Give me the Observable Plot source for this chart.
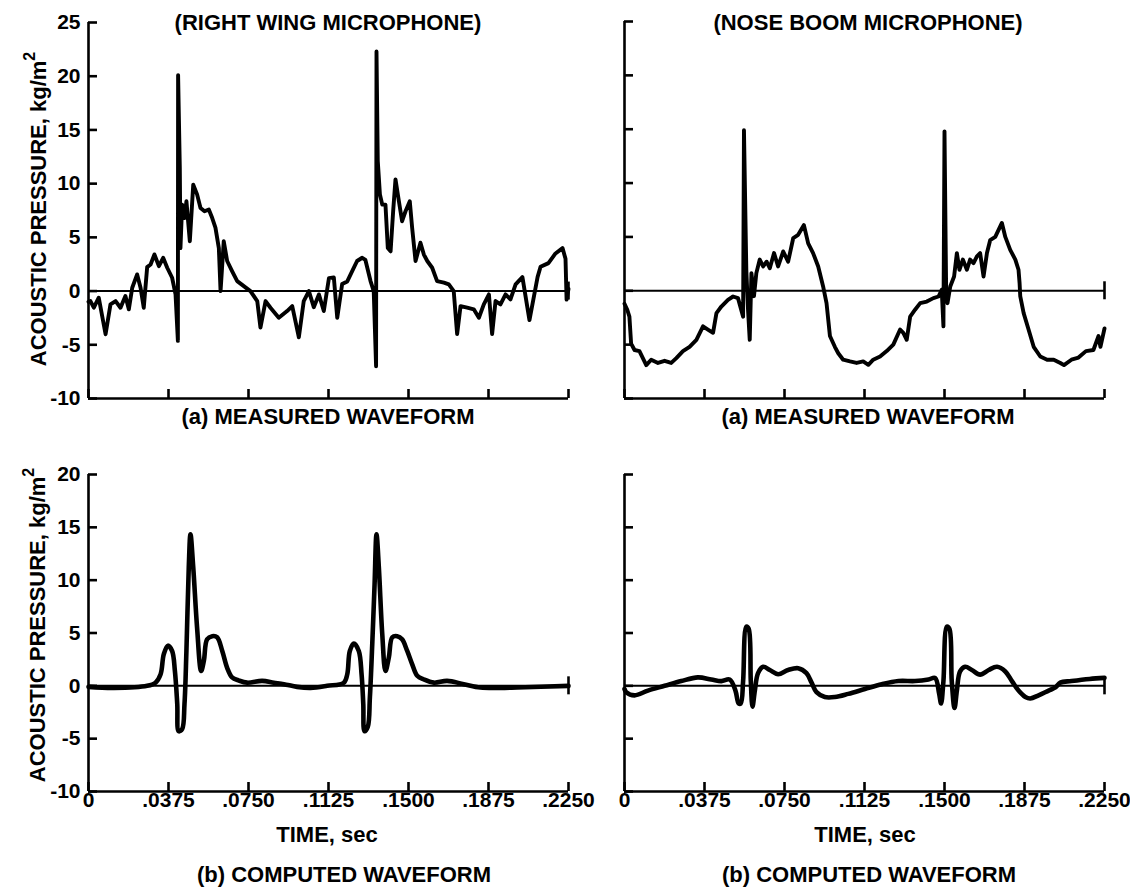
<!DOCTYPE html>
<html><head><meta charset="utf-8">
<script src="https://cdn.jsdelivr.net/npm/d3@7"></script>
<script src="https://cdn.jsdelivr.net/npm/@observablehq/plot@0.6"></script>
<style>
body{margin:0;background:#fff;}
#fig{position:relative;width:1130px;height:889px;overflow:hidden;background:#fff;font-family:"Liberation Sans",Arial,sans-serif;font-weight:bold;color:#000;}
.lbl{position:absolute;white-space:nowrap;font-size:22px;line-height:1;transform:translate(-50%,-50%);}
.ylab{position:absolute;white-space:nowrap;font-size:22px;line-height:1;transform:translate(-50%,-50%) rotate(-90deg);}
.ylab sup{font-size:16px;position:relative;top:-2px;}
</style></head><body><div id="fig"></div>
<script>
// ---- axis ticks ----
const xTicks = [0, 0.0375, 0.075, 0.1125, 0.15, 0.1875, 0.225];
const xTickLabels = ["0", ".0375", ".0750", ".1125", ".1500", ".1875", ".2250"];
const yTicksTop = [-10, -5, 0, 5, 10, 15, 20, 25];
const yTickLabelsTop = ["-10", "-5", "0", "5", "10", "15", "20", "25"];
const yTicksBottom = [-10, -5, 0, 5, 10, 15, 20];
const yTickLabelsBottom = ["-10", "-5", "0", "5", "10", "15", "20"];
const zeroLineEnd = [0.225];

// ---- (a) measured waveform, right wing microphone ----
const wingMeasuredT = [0.0000,0.0009,0.0025,0.0048,0.0080,0.0103,0.0127,0.0150,0.0173,0.0189,0.0205,0.0228,0.0244,0.0259,0.0275,0.0291,0.0309,0.0330,0.0350,0.0369,0.0392,0.0408,0.0419,0.0420,0.0428,0.0431,0.0439,0.0450,0.0459,0.0475,0.0491,0.0509,0.0525,0.0544,0.0564,0.0580,0.0595,0.0611,0.0619,0.0634,0.0650,0.0673,0.0697,0.0728,0.0759,0.0791,0.0806,0.0830,0.0853,0.0892,0.0931,0.0955,0.0986,0.1009,0.1033,0.1056,0.1080,0.1103,0.1127,0.1150,0.1166,0.1189,0.1213,0.1236,0.1259,0.1283,0.1298,0.1322,0.1337,0.1348,0.1350,0.1356,0.1366,0.1377,0.1392,0.1403,0.1416,0.1428,0.1439,0.1455,0.1470,0.1486,0.1506,0.1517,0.1533,0.1556,0.1572,0.1588,0.1611,0.1634,0.1666,0.1689,0.1712,0.1728,0.1744,0.1775,0.1806,0.1830,0.1853,0.1877,0.1892,0.1908,0.1931,0.1955,0.1978,0.2002,0.2034,0.2067,0.2105,0.2119,0.2156,0.2189,0.2222,0.2236,0.2241,0.2250];
const wingMeasuredV = [-1.0,-0.93,-1.55,-0.62,-4.02,-1.24,-0.93,-1.55,-0.46,-1.70,0.31,1.55,0.31,-1.55,2.23,2.48,3.41,2.32,3.10,2.17,1.24,-0.31,-4.64,20.1,11.5,4.0,8.05,6.8,8.36,4.64,9.9,9.0,7.74,7.43,7.6,6.8,5.9,4.0,0.0,4.64,2.8,1.86,0.93,0.46,0.0,-0.93,-3.4,-0.93,-1.55,-2.48,-1.86,-1.4,-4.3,-0.93,0.0,-1.5,-0.31,-1.86,1.2,1.27,-2.48,0.65,0.9,1.86,2.8,3.1,2.9,0.93,0.0,-7.0,22.3,12.1,9.0,8.05,8.05,4.0,3.7,7.43,10.4,8.36,6.5,7.43,8.36,5.9,2.8,4.5,3.4,2.8,2.17,0.93,0.78,0.62,0.0,-4.0,-1.4,-1.55,-1.7,-2.48,-1.24,-0.31,-4.0,-0.93,-1.24,-0.31,-0.78,0.62,1.3,-2.7,1.3,2.26,2.6,3.5,4.0,3.0,-0.8,0.2];

// ---- (a) measured waveform, nose boom microphone ----
const noseMeasuredT = [0.0000,0.0013,0.0023,0.0031,0.0047,0.0070,0.0102,0.0125,0.0157,0.0188,0.0219,0.0243,0.0274,0.0305,0.0337,0.0368,0.0391,0.0415,0.0431,0.0454,0.0485,0.0509,0.0532,0.0556,0.0560,0.0571,0.0579,0.0587,0.0595,0.0607,0.0618,0.0634,0.0650,0.0666,0.0681,0.0701,0.0720,0.0744,0.0767,0.0791,0.0814,0.0841,0.0861,0.0884,0.0908,0.0931,0.0947,0.0963,0.0986,0.1002,0.1025,0.1057,0.1088,0.1119,0.1143,0.1166,0.1198,0.1229,0.1260,0.1292,0.1307,0.1323,0.1339,0.1362,0.1386,0.1417,0.1448,0.1472,0.1487,0.1495,0.1500,0.1508,0.1514,0.1527,0.1545,0.1558,0.1570,0.1586,0.1605,0.1620,0.1636,0.1652,0.1667,0.1683,0.1699,0.1714,0.1738,0.1769,0.1785,0.1808,0.1832,0.1847,0.1852,0.1855,0.1871,0.1894,0.1918,0.1949,0.1981,0.2012,0.2043,0.2060,0.2095,0.2128,0.2163,0.2198,0.2222,0.2231,0.2250];
const noseMeasuredV = [-1.2,-1.76,-2.4,-4.9,-5.5,-5.6,-6.9,-6.4,-6.7,-6.5,-6.7,-6.25,-5.6,-5.2,-4.55,-3.3,-3.6,-3.9,-2.07,-1.46,-0.84,-0.53,-0.68,-2.4,14.9,1.95,-1.76,-4.55,1.64,-0.5,1.64,2.9,2.26,2.7,2.1,3.5,2.26,3.65,2.7,4.9,5.2,6.1,4.4,3.5,2.26,0.4,-1.15,-4.2,-5.2,-5.8,-6.4,-6.56,-6.7,-6.56,-6.87,-6.4,-6.1,-5.6,-5.0,-3.6,-3.9,-4.55,-2.4,-1.76,-1.15,-1.0,-0.68,-0.53,0.1,-3.3,14.8,-0.5,-1.15,0.4,1.33,3.5,1.95,2.9,1.95,2.9,2.57,3.2,3.5,1.33,3.5,4.7,5.0,6.3,5.0,3.8,2.9,1.95,0.7,-0.5,-2.07,-3.6,-5.2,-6.1,-6.4,-6.4,-6.7,-6.9,-6.4,-6.2,-5.6,-5.5,-4.2,-5.2,-3.5];

// ---- (b) computed waveform, right wing ----
const wingComputedT = [0.0000,0.0119,0.0275,0.0314,0.0338,0.0353,0.0372,0.0392,0.0405,0.0416,0.0423,0.0439,0.0450,0.0459,0.0470,0.0478,0.0491,0.0509,0.0528,0.0541,0.0556,0.0580,0.0603,0.0627,0.0650,0.0673,0.0705,0.0744,0.0814,0.0869,0.0916,0.0978,0.1041,0.1119,0.1197,0.1213,0.1225,0.1244,0.1267,0.1280,0.1288,0.1294,0.1309,0.1319,0.1330,0.1341,0.1350,0.1361,0.1377,0.1392,0.1408,0.1424,0.1447,0.1470,0.1494,0.1517,0.1541,0.1572,0.1619,0.1681,0.1759,0.1837,0.1931,0.2009,0.2250];
const wingComputedV = [-0.1,-0.2,0.0,0.3,1.1,3.0,3.8,3.3,1.4,-1.7,-4.3,-4.1,-1.7,3.3,11.2,14.35,11.2,5.5,1.4,2.4,4.4,4.7,4.6,3.3,1.7,0.8,0.5,0.3,0.47,0.3,0.16,-0.1,-0.2,0.0,0.3,1.1,3.3,4.0,3.3,1.1,-1.7,-4.3,-3.9,-1.1,3.9,9.6,14.35,11.2,4.9,1.4,2.7,4.6,4.7,4.4,3.3,2.05,0.95,0.6,0.3,0.47,0.16,-0.16,-0.2,-0.16,0.0];

// ---- (b) computed waveform, nose boom ----
const noseComputedT = [0.0000,0.0008,0.0047,0.0110,0.0188,0.0266,0.0344,0.0407,0.0454,0.0493,0.0520,0.0535,0.0545,0.0556,0.0571,0.0582,0.0592,0.0600,0.0611,0.0626,0.0650,0.0681,0.0720,0.0767,0.0814,0.0853,0.0877,0.0900,0.0939,0.0986,0.1049,0.1127,0.1206,0.1284,0.1362,0.1425,0.1456,0.1475,0.1484,0.1495,0.1511,0.1523,0.1534,0.1547,0.1558,0.1573,0.1597,0.1628,0.1667,0.1707,0.1746,0.1785,0.1816,0.1847,0.1879,0.1902,0.1941,0.1988,0.2020,0.2043,0.2095,0.2180,0.2250];
const noseComputedV = [-0.3,-0.6,-0.9,-0.45,0.0,0.45,0.8,0.6,0.45,0.6,-0.45,-1.67,-1.67,0.45,5.6,5.4,0.45,-1.97,-0.45,1.2,1.8,1.5,1.1,1.5,1.67,1.2,0.3,-0.6,-1.06,-1.06,-0.76,-0.3,0.15,0.45,0.45,0.6,0.75,-0.76,-1.67,0.45,5.6,5.4,0.45,-2.1,-0.45,1.36,1.8,1.5,1.06,1.5,1.8,1.36,0.45,-0.45,-1.06,-1.2,-0.9,-0.45,-0.15,0.3,0.45,0.65,0.75];

const toRows = (T, V) => T.map((t, i) => ({t, v: V[i]}));

const fig = document.getElementById("fig");
const FONT = '"Liberation Sans", Arial, sans-serif';

function panel(o) {
  const svg = Plot.plot({
    width: o.width, height: o.height,
    marginTop: o.mt, marginBottom: o.mb, marginLeft: o.ml, marginRight: o.mr,
    x: {domain: [0, 0.225], label: null},
    y: {domain: o.yDomain, label: null},
    style: {fontFamily: FONT, fontSize: "21px", fontWeight: "bold", color: "#000", background: "transparent", overflow: "visible"},
    marks: [
      Plot.ruleY([0], {stroke: "#000", strokeWidth: 2}),
      Plot.line(o.data, {x: "t", y: "v", stroke: "#000", strokeWidth: o.lw, curve: o.curve, strokeLinejoin: "round", strokeLinecap: "round"}),
      Plot.ruleX([0], {stroke: "#000", strokeWidth: 2.6}),
      Plot.ruleY([o.yDomain[0]], {stroke: "#000", strokeWidth: 2.6}),
      Plot.axisY(o.yTicks, {tickSize: -9, tickPadding: 17, strokeWidth: 2.6, label: null,
        tickFormat: d => o.yLabels ? o.yLabels[o.yTicks.indexOf(d)] : ""}),
      Plot.axisX(xTicks, {tickSize: -9, tickPadding: 10, strokeWidth: 2.6, label: null,
        tickFormat: d => o.xLabels ? o.xLabels[xTicks.indexOf(d)] : ""}),
      Plot.ruleX(zeroLineEnd, {y1: 0, y2: 0, insetTop: -9, insetBottom: -9, stroke: "#000", strokeWidth: 2.6})
    ]
  });
  svg.style.position = "absolute";
  svg.style.left = o.left + "px";
  svg.style.top = o.top + "px";
  fig.appendChild(svg);
}

panel({data: toRows(wingMeasuredT, wingMeasuredV), yDomain: [-10, 25], yTicks: yTicksTop, yLabels: yTickLabelsTop, xLabels: null,
  left: 0, top: 0, width: 600, height: 410, mt: 22, mb: 12, ml: 88, mr: 32, lw: 3.9, curve: "linear"});
panel({data: toRows(noseMeasuredT, noseMeasuredV), yDomain: [-10, 25], yTicks: yTicksTop, yLabels: null, xLabels: null,
  left: 600, top: 0, width: 530, height: 410, mt: 21, mb: 12, ml: 24, mr: 26, lw: 3.9, curve: "linear"});
panel({data: toRows(wingComputedT, wingComputedV), yDomain: [-10, 20], yTicks: yTicksBottom, yLabels: yTickLabelsBottom, xLabels: xTickLabels,
  left: 0, top: 440, width: 600, height: 449, mt: 34, mb: 98, ml: 88, mr: 32, lw: 4.6, curve: "catmull-rom"});
panel({data: toRows(noseComputedT, noseComputedV), yDomain: [-10, 20], yTicks: yTicksBottom, yLabels: null, xLabels: xTickLabels,
  left: 600, top: 440, width: 530, height: 449, mt: 34, mb: 98, ml: 24, mr: 26, lw: 4.6, curve: "catmull-rom"});

function label(text, x, y, cls = "lbl", html = false) {
  const d = document.createElement("div");
  d.className = cls;
  if (html) d.innerHTML = text; else d.textContent = text;
  d.style.left = x + "px";
  d.style.top = y + "px";
  fig.appendChild(d);
}
label("(RIGHT WING MICROPHONE)", 328, 23);
label("(NOSE BOOM MICROPHONE)", 868, 23);
label("(a) MEASURED WAVEFORM", 328, 417);
label("(a) MEASURED WAVEFORM", 868, 417);
label("TIME, sec", 327, 835);
label("TIME, sec", 865, 835);
label("(b) COMPUTED WAVEFORM", 344, 875);
label("(b) COMPUTED WAVEFORM", 869, 875);
label("ACOUSTIC PRESSURE, kg/m<sup>2</sup>", 37, 209, "ylab", true);
label("ACOUSTIC PRESSURE, kg/m<sup>2</sup>", 36, 625, "ylab", true);
</script>
</body></html>
